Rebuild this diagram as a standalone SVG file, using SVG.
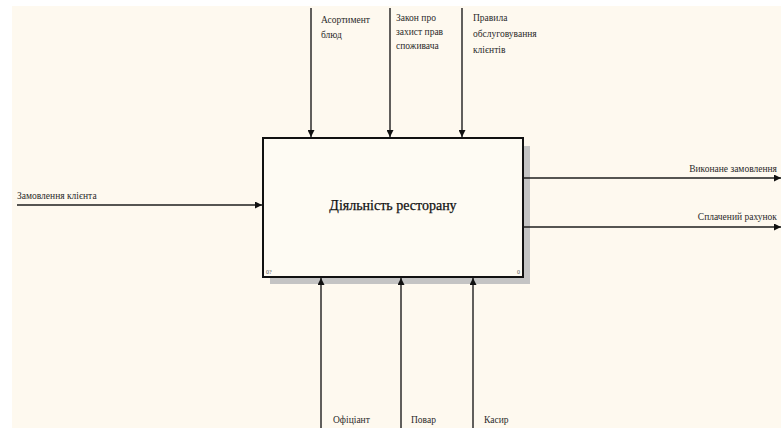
<svg xmlns="http://www.w3.org/2000/svg" width="781" height="428" viewBox="0 0 781 428">
  <style>
    .lbl { font-family: 'Liberation Serif', 'DejaVu Serif', serif; font-size: 9.5px; fill: #2a2a2a; }
    .title { font-family: 'Liberation Serif', 'DejaVu Serif', serif; font-size: 14px; fill: #111; stroke: #111; stroke-width: 0.25; }
    .tiny { font-family: 'Liberation Serif', 'DejaVu Serif', serif; font-size: 6px; fill: #555; }
    .arc { stroke: #1e1e1e; stroke-width: 1.4; fill: none; }
  </style>
  <defs>
    <marker id="arrow" viewBox="0 0 10 10" refX="10" refY="5" markerWidth="5" markerHeight="5" orient="auto">
      <path d="M0,0 L10,5 L0,10 z" fill="#111"/>
    </marker>
  </defs>

  <!-- page background -->
  <rect x="0" y="0" width="781" height="428" fill="#ffffff"/>
  <rect x="12" y="6" width="769" height="422" fill="#fef9ef"/>

  <!-- activity box -->
  <g id="activity">
    <rect x="270" y="146" width="260" height="138" fill="#c4c4c4"/>
    <rect x="263" y="138" width="260" height="139" fill="#fefbf3" stroke="#111" stroke-width="2"/>
    <text class="title" x="393" y="210" text-anchor="middle">Діяльність ресторану</text>
    <text class="tiny" x="266" y="274">0?</text>
    <text class="tiny" x="517" y="274">0</text>
  </g>

  <!-- connectors -->
  <g id="connectors">
    <!-- controls -->
    <line class="arc" x1="311" y1="8" x2="311" y2="137" marker-end="url(#arrow)"/>
    <line class="arc" x1="390" y1="8" x2="390" y2="137" marker-end="url(#arrow)"/>
    <line class="arc" x1="462" y1="8" x2="462" y2="137" marker-end="url(#arrow)"/>
    <!-- input -->
    <line class="arc" x1="17" y1="205" x2="262" y2="205" marker-end="url(#arrow)"/>
    <!-- outputs -->
    <line class="arc" x1="524" y1="178" x2="781" y2="178" marker-end="url(#arrow)"/>
    <line class="arc" x1="524" y1="227" x2="781" y2="227" marker-end="url(#arrow)"/>
    <!-- mechanisms -->
    <line class="arc" x1="321" y1="428" x2="321" y2="278" marker-end="url(#arrow)"/>
    <line class="arc" x1="401" y1="428" x2="401" y2="278" marker-end="url(#arrow)"/>
    <line class="arc" x1="473" y1="428" x2="473" y2="278" marker-end="url(#arrow)"/>
  </g>

  <!-- arrow labels -->
  <g id="labels">
    <g id="ctl-menu">
      <text class="lbl" x="321" y="23">Асортимент</text>
      <text class="lbl" x="321" y="38">блюд</text>
    </g>
    <g id="ctl-law">
      <text class="lbl" x="396" y="21">Закон про</text>
      <text class="lbl" x="396" y="35">захист прав</text>
      <text class="lbl" x="396" y="49">споживача</text>
    </g>
    <g id="ctl-rules">
      <text class="lbl" x="473" y="21">Правила</text>
      <text class="lbl" x="473" y="37">обслуговування</text>
      <text class="lbl" x="473" y="53">клієнтів</text>
    </g>
    <g id="in-order">
      <text class="lbl" x="17" y="199">Замовлення клієнта</text>
    </g>
    <g id="out-done">
      <text class="lbl" x="777" y="172" text-anchor="end">Виконане замовлення</text>
    </g>
    <g id="out-paid">
      <text class="lbl" x="777" y="220" text-anchor="end">Сплачений рахунок</text>
    </g>
    <g id="mech-waiter">
      <text class="lbl" x="333" y="423">Офіціант</text>
    </g>
    <g id="mech-cook">
      <text class="lbl" x="411" y="423">Повар</text>
    </g>
    <g id="mech-cashier">
      <text class="lbl" x="484" y="423">Касир</text>
    </g>
  </g>
</svg>
